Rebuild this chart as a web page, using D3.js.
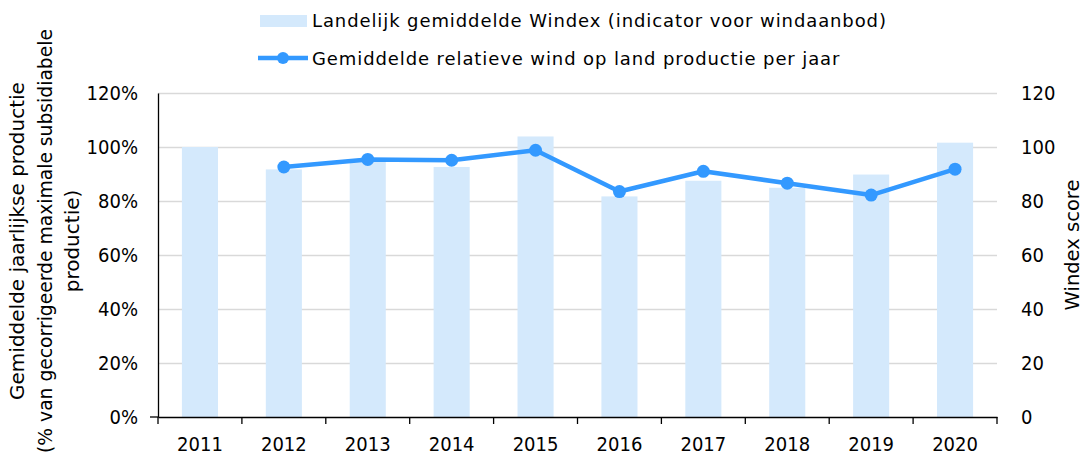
<!DOCTYPE html>
<html>
<head>
<meta charset="utf-8">
<script src="https://cdn.jsdelivr.net/npm/d3@7"></script>
<style>
  body { margin: 0; background: #fff; }
  svg { display: block; }
</style>
</head>
<body>
<div id="chart"></div>
<script>
// Data
const years = ["2011", "2012", "2013", "2014", "2015", "2016", "2017", "2018", "2019", "2020"];
const windex = [100, 91.7, 94.5, 92.6, 103.9, 81.7, 87.5, 84.9, 89.8, 101.6];
const production = [null, 0.926, 0.954, 0.951, 0.988, 0.835, 0.910, 0.866, 0.822, 0.918];
const leftTicks = [0, 0.2, 0.4, 0.6, 0.8, 1.0, 1.2];
const rightTicks = [0, 20, 40, 60, 80, 100, 120];
const legendLabels = [
  "Landelijk gemiddelde Windex (indicator voor windaanbod)",
  "Gemiddelde relatieve wind op land productie per jaar"
];

const W = 1083, H = 457;
const margin = {top: 93, right: 86, bottom: 40, left: 158},
    width = W - margin.left - margin.right,
    height = H - margin.top - margin.bottom;

const barColor = "#d4e9fc", lineColor = "#3399ff";
const tickFont = "'DejaVu Sans Condensed', 'DejaVu Sans', sans-serif";
const titleFont = "'DejaVu Sans', sans-serif";

const svgRoot = d3.select("#chart").append("svg")
    .attr("width", W).attr("height", H);
const svg = svgRoot.append("g")
    .attr("transform", `translate(${margin.left},${margin.top})`);

// Scales
const x = d3.scaleBand().domain(years).range([0, width]).padding(0);
const yL = d3.scaleLinear().domain([0, 1.2]).range([height, 0]);
const yR = d3.scaleLinear().domain([0, 120]).range([height, 0]);

// Gridlines
svg.append("g")
    .call(d3.axisLeft(yL).tickValues(leftTicks.slice(1)).tickSize(-width).tickFormat(""))
    .call(g => g.select(".domain").remove())
    .call(g => g.selectAll("line").attr("stroke", "#d9d9d9").attr("stroke-width", 1.5));

// Bars (right axis)
const barW = x.bandwidth() * 0.43;
svg.selectAll("rect.bar")
    .data(years)
    .join("rect")
    .attr("class", "bar")
    .attr("x", (d) => x(d) + (x.bandwidth() - barW) / 2)
    .attr("y", (d, i) => yR(windex[i]))
    .attr("width", barW)
    .attr("height", (d, i) => height - yR(windex[i]))
    .style("fill", barColor);

// Left axis
svg.append("g")
    .call(d3.axisLeft(yL).tickValues(leftTicks).tickFormat(d3.format(".0%")).tickSize(0).tickPadding(20))
    .call(g => g.select(".domain").attr("stroke", "#000").attr("stroke-width", 1.3))
    .call(g => g.selectAll("text").style("font-family", tickFont).style("font-size", "20px").attr("fill", "#000"));
svg.append("line")
    .attr("x1", -8).attr("x2", 0).attr("y1", yL(0)).attr("y2", yL(0))
    .attr("stroke", "#000").attr("stroke-width", 1.3);

// Right axis
svg.append("g")
    .attr("transform", `translate(${width},0)`)
    .call(d3.axisRight(yR).tickValues(rightTicks).tickSize(0).tickPadding(24))
    .call(g => g.select(".domain").remove())
    .call(g => g.selectAll("text").style("font-family", tickFont).style("font-size", "20px").attr("fill", "#000"));

// Bottom axis
const bounds = years.map(d => x(d)).concat([width]);
svg.append("g")
    .attr("transform", `translate(0,${height})`)
    .call(d3.axisBottom(x).tickSize(0).tickPadding(20))
    .call(g => g.select(".domain").attr("stroke", "#000").attr("stroke-width", 1.3))
    .call(g => g.selectAll("text").style("font-family", tickFont).style("font-size", "20px").attr("fill", "#000"))
    .call(g => g.selectAll("line.sep").data(bounds).join("line").attr("class", "sep")
        .attr("x1", d => d).attr("x2", d => d).attr("y1", 0).attr("y2", 7)
        .attr("stroke", "#000").attr("stroke-width", 1.3));

// Line (left axis)
const pts = years.map((d, i) => ({year: d, v: production[i]})).filter(d => d.v != null);
svg.append("path")
    .datum(pts)
    .attr("fill", "none")
    .attr("stroke", lineColor)
    .attr("stroke-width", 4.5)
    .attr("stroke-linejoin", "round")
    .attr("d", d3.line().x(d => x(d.year) + x.bandwidth() / 2).y(d => yL(d.v)));
svg.selectAll("circle.pt")
    .data(pts)
    .join("circle")
    .attr("class", "pt")
    .attr("cx", d => x(d.year) + x.bandwidth() / 2)
    .attr("cy", d => yL(d.v))
    .attr("r", 6.5)
    .attr("fill", lineColor);

// Axis titles
const leftTitle = ["Gemiddelde jaarlijkse productie", "(% van gecorrigeerde maximale subsidiabele", "productie)"];
const maxTitleLen = 424;
svgRoot.append("g")
    .attr("transform", "translate(0,241) rotate(-90)")
    .selectAll("text")
    .data(leftTitle)
    .join("text")
    .attr("x", 0)
    .attr("y", (d, i) => 18 + i * 27.5)
    .attr("dy", "0.3em")
    .attr("text-anchor", "middle")
    .style("font-family", titleFont)
    .style("font-size", "20px")
    .text(d => d)
    .each(function() {
        // keep the long middle line inside the picture
        if (this.getComputedTextLength() > maxTitleLen) {
            d3.select(this).attr("textLength", maxTitleLen).attr("lengthAdjust", "spacingAndGlyphs");
        }
    });
svgRoot.append("text")
    .attr("transform", "translate(1073,245) rotate(-90)")
    .attr("dy", "0.3em")
    .attr("text-anchor", "middle")
    .style("font-family", titleFont)
    .style("font-size", "19.5px")
    .text("Windex score");

// Legend
const legend = svgRoot.append("g");
legend.append("rect")
    .attr("x", 260).attr("y", 15).attr("width", 47).attr("height", 12)
    .style("fill", barColor);
legend.append("line")
    .attr("x1", 258).attr("x2", 308).attr("y1", 58).attr("y2", 58)
    .attr("stroke", lineColor).attr("stroke-width", 4.5);
legend.append("circle")
    .attr("cx", 283).attr("cy", 58).attr("r", 6).attr("fill", lineColor);
legend.selectAll("text")
    .data(legendLabels)
    .join("text")
    .attr("x", 312)
    .attr("y", (d, i) => 21 + i * 37.5)
    .attr("dy", "0.35em")
    .style("font-family", titleFont)
    .style("font-size", "18px")
    .style("letter-spacing", "0.9px")
    .text(d => d);
</script>
</body>
</html>
